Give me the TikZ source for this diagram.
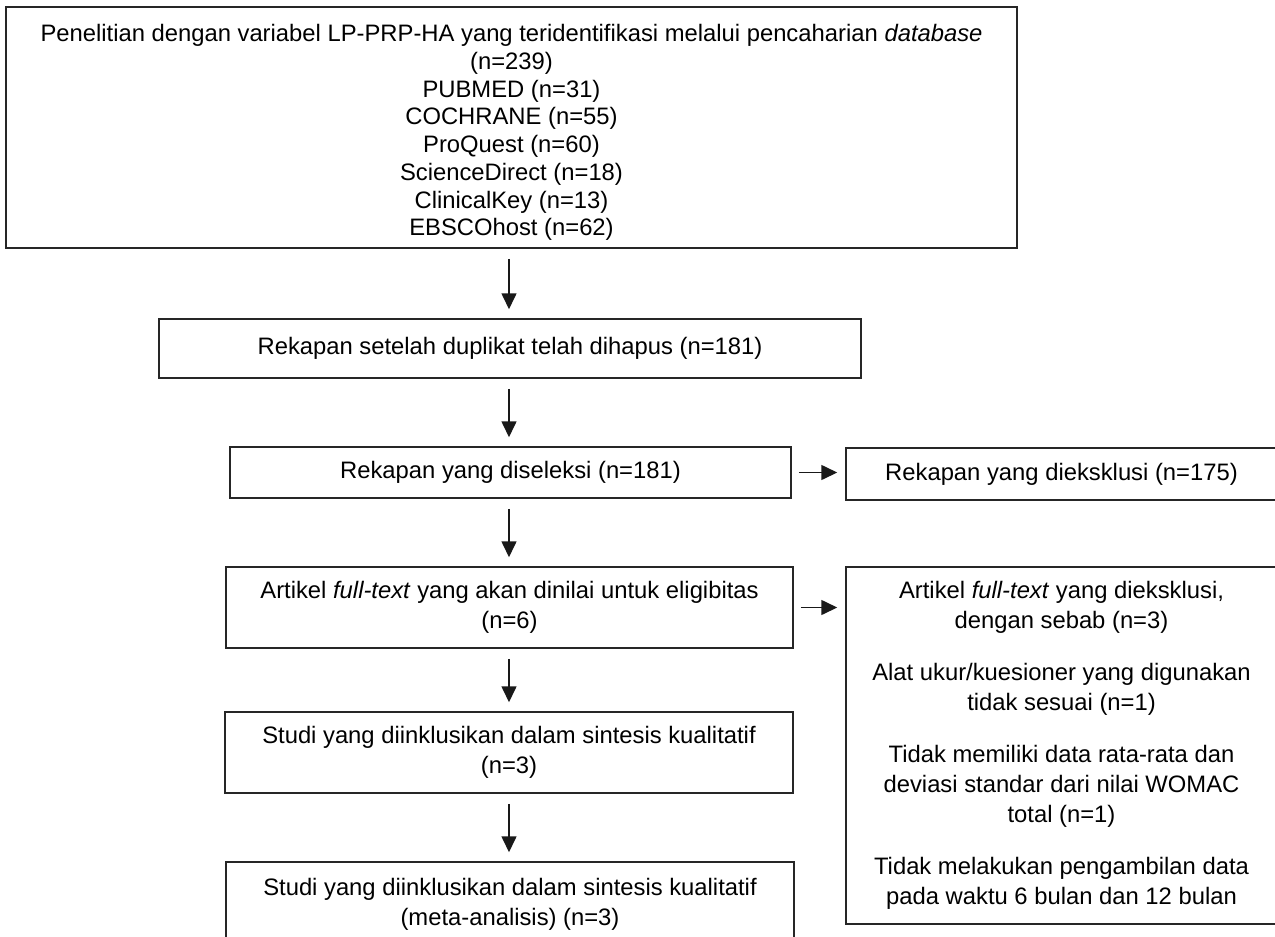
\documentclass[tikz,border=0pt]{standalone}
\usepackage{fontspec}
\setmainfont{Liberation Sans}
\usetikzlibrary{arrows.meta}
\tikzset{
  box/.style={draw=black!85, line width=1.5pt, rectangle, inner sep=0pt, align=center,
    font=\fontsize{23.8}{30}\selectfont},
  arr/.style={draw=black!90, line width=1.6pt, -{Triangle[length=16pt,width=15pt]}},
  darr/.style={arr, shorten <=10pt, shorten >=9pt},
  harr/.style={arr, shorten <=7pt, shorten >=8pt},
}
\begin{document}
\begin{tikzpicture}[x=1pt,y=-1pt]
\useasboundingbox (0,0) rectangle (1275,937);
\clip (0,0) rectangle (1275,937);

\node[box, minimum width=1011, minimum height=241, font=\fontsize{23.8}{27.7}\selectfont] (b1) at (511.5,127.5)
  {\rule{0pt}{27.5pt}Penelitian dengan variabel LP-PRP-HA yang teridentifikasi melalui pencaharian \textit{database}\\(n=239)\\PUBMED (n=31)\\COCHRANE (n=55)\\ProQuest (n=60)\\ScienceDirect (n=18)\\ClinicalKey (n=13)\\EBSCOhost (n=62)};

\node[box, minimum width=702, minimum height=59] (b2) at (510,348.5)
  {Rekapan setelah duplikat telah dihapus (n=181)};

\node[box, minimum width=561, minimum height=51] (b3) at (510.5,472.5)
  {Rekapan yang diseleksi (n=181)};

\node[box, minimum width=431, minimum height=52] (r1) at (1061.5,474)
  {Rekapan yang dieksklusi (n=175)};

\node[box, minimum width=567, minimum height=81] (b4) at (509.5,607.5)
  {Artikel \textit{full-text} yang akan dinilai untuk eligibitas\\(n=6)};

\node[box, minimum width=431, minimum height=357] (r2) at (1061.5,745.5)
  {Artikel \textit{full-text} yang dieksklusi,\\dengan sebab (n=3)\\[22pt]Alat ukur/kuesioner yang digunakan\\tidak sesuai (n=1)\\[22pt]Tidak memiliki data rata-rata dan\\deviasi standar dari nilai WOMAC\\total (n=1)\\[22pt]Tidak melakukan pengambilan data\\pada waktu 6 bulan dan 12 bulan};

\node[box, minimum width=568, minimum height=81] (b5) at (509,752.5)
  {Studi yang diinklusikan dalam sintesis kualitatif\\(n=3)};

\node[box, minimum width=568, minimum height=84] (b6) at (510,904)
  {Studi yang diinklusikan dalam sintesis kualitatif\\(meta-analisis) (n=3)};

\draw[darr] (b1.south -| b5.center) -- (b2.north -| b5.center);
\draw[darr] (b2.south -| b5.center) -- (b3.north -| b5.center);
\draw[darr] (b3.south -| b5.center) -- (b4.north -| b5.center);
\draw[darr] (b4.south -| b5.center) -- (b5.north);
\draw[darr] (b5.south) -- (b6.north -| b5.center);

\draw[harr] (b3.east) -- (r1.west |- b3.east);
\draw[harr] (b4.east) -- (r2.west |- b4.east);
\end{tikzpicture}
\end{document}
